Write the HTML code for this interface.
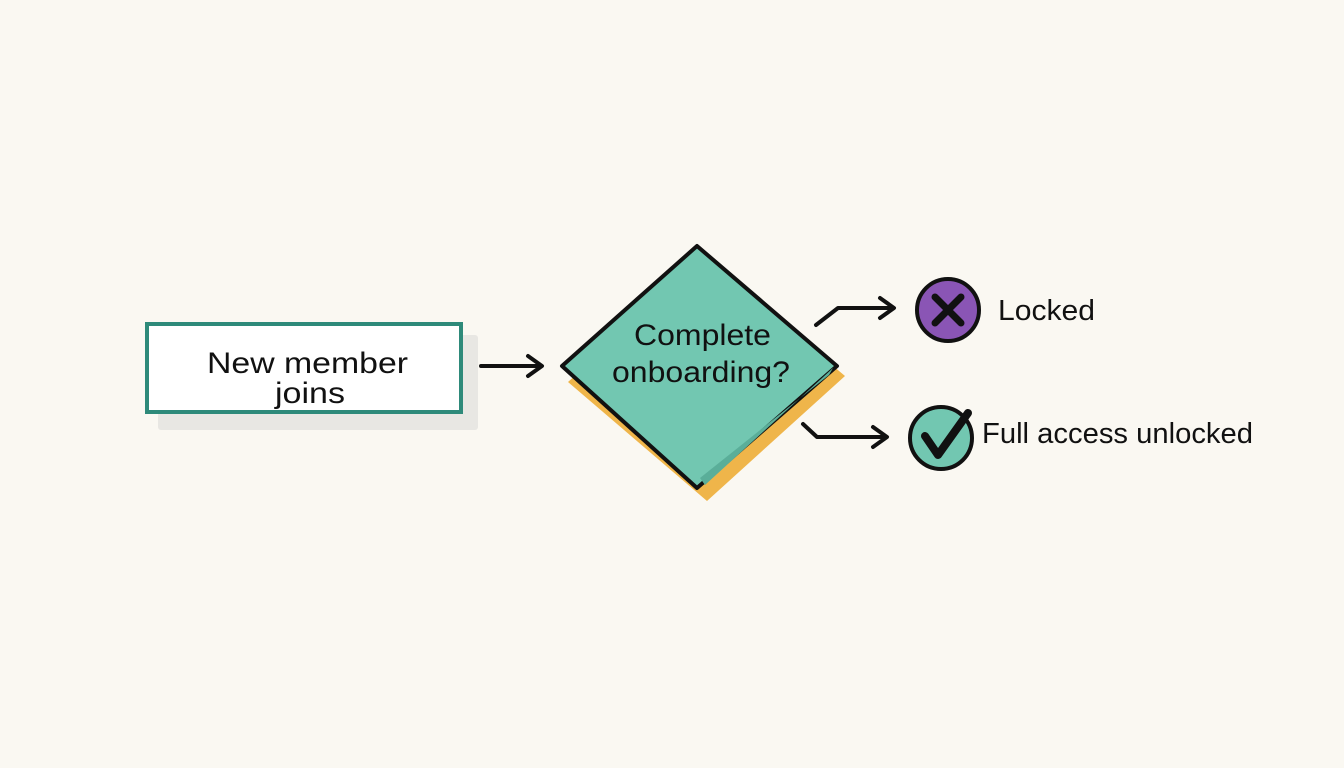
<!DOCTYPE html>
<html><head><style>
html,body{margin:0;padding:0;background:#faf8f2;}
svg{display:block}
text{font-family:"Liberation Sans",sans-serif;fill:#111;}
</style></head><body>
<svg width="1344" height="768" viewBox="0 0 1344 768">
<rect width="1344" height="768" fill="#faf8f2"/>
<!-- box -->
<rect x="158" y="335" width="320" height="95" rx="3" fill="#e8e7e3"/>
<rect x="147" y="324" width="314" height="88" fill="#fff" stroke="#2e8a7a" stroke-width="4"/>
<text x="207" y="373" font-size="30" textLength="201" lengthAdjust="spacingAndGlyphs">New member</text>
<text x="275" y="403" font-size="30" textLength="70" lengthAdjust="spacingAndGlyphs">joins</text>
<!-- arrow 1 -->
<path d="M481 366 L541 366 M528 356 L542 366 L528 376" fill="none" stroke="#111" stroke-width="4" stroke-linecap="round" stroke-linejoin="round"/>
<!-- diamond -->
<polygon points="568,382 705,258 845,376 707,501" fill="#efb54a"/>
<polygon points="562,366 697,246 837,366 697,488" fill="#72c7b1" stroke="#111" stroke-width="4" stroke-linejoin="round"/>
<polygon points="700,478 829,375 833,368 705,485" fill="#5aae99"/>
<text x="634" y="345" font-size="30" textLength="137" lengthAdjust="spacingAndGlyphs">Complete</text>
<text x="612" y="382" font-size="30" textLength="178" lengthAdjust="spacingAndGlyphs">onboarding?</text>
<!-- arrows right -->
<path d="M816 325 L838 308 L893 308 M880 298 L894 308 L880 318" fill="none" stroke="#111" stroke-width="4" stroke-linecap="round" stroke-linejoin="round"/>
<path d="M803 424 L817 437 L886 437 M873 427 L887 437 L873 447" fill="none" stroke="#111" stroke-width="4" stroke-linecap="round" stroke-linejoin="round"/>
<!-- locked -->
<circle cx="948" cy="310" r="31" fill="#8a55b5" stroke="#111" stroke-width="4"/>
<path d="M935 297 L961 323 M961 297 L935 323" stroke="#111" stroke-width="7" stroke-linecap="round"/>
<text x="998" y="320" font-size="29" textLength="97" lengthAdjust="spacingAndGlyphs">Locked</text>
<!-- unlocked -->
<circle cx="941" cy="438" r="31" fill="#72c7b1" stroke="#111" stroke-width="4"/>
<path d="M925 436 L938 455 L968 413" fill="none" stroke="#111" stroke-width="8" stroke-linecap="round" stroke-linejoin="round"/>
<text x="982" y="443" font-size="29" textLength="271" lengthAdjust="spacingAndGlyphs">Full access unlocked</text>
</svg>
</body></html>
